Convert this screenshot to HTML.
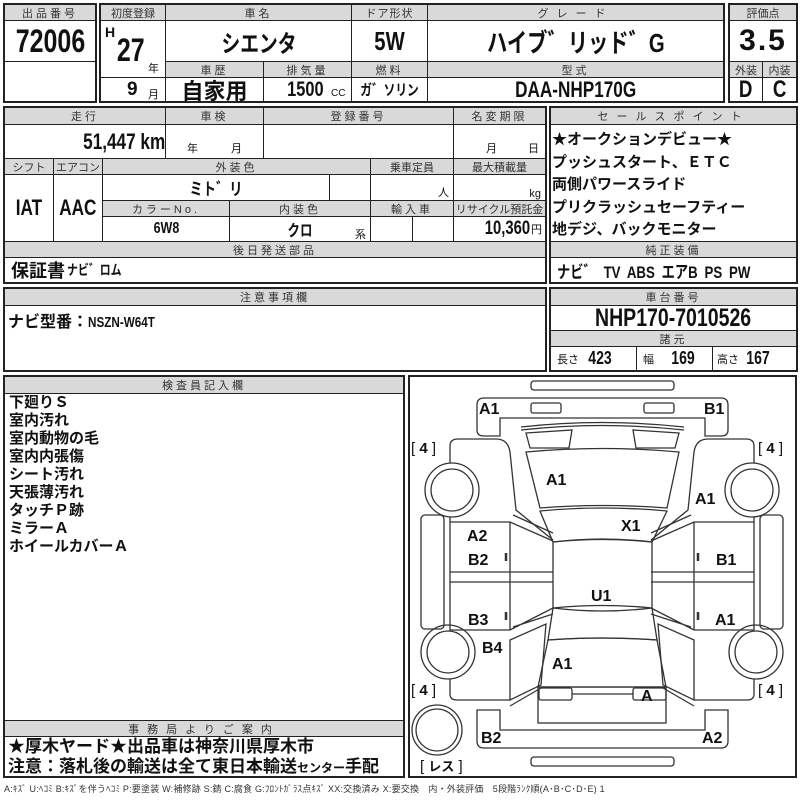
<!DOCTYPE html>
<html><head><meta charset="utf-8">
<style>
*{box-sizing:border-box;margin:0;padding:0}
body{width:800px;height:800px;background:#fff;position:relative;overflow:hidden;font-family:"Liberation Sans","Noto Sans CJK JP",sans-serif;color:#111}
.c{position:absolute;border:1px solid #222;display:flex;align-items:center;justify-content:center;white-space:nowrap;overflow:hidden}
.h{background:#d9d9d9;font-size:11px;color:#333;letter-spacing:3px}
.f{position:absolute;border:2px solid #222}
.v{font-family:"Liberation Sans","Noto Sans CJK JP",sans-serif;font-weight:bold}
.n{display:inline-block;transform:scaleX(0.78)}
.t{position:absolute;white-space:nowrap}
</style></head><body>
<!-- box1 -->
<div class="c h" style="left:4px;top:4px;width:92px;height:17px">出品番号</div>
<div class="c v" style="left:4px;top:20px;width:92px;height:42px;font-size:32px"><span class="n">72006</span></div>
<div class="c" style="left:4px;top:61px;width:92px;height:41px"></div>
<div class="f" style="left:3px;top:3px;width:94px;height:100px"></div>
<!-- box2 -->
<div class="c h" style="left:100px;top:4px;width:66px;height:17px;letter-spacing:0">初度登録</div>
<div class="c h" style="left:165px;top:4px;width:187px;height:17px">車名</div>
<div class="c h" style="left:351px;top:4px;width:77px;height:17px;letter-spacing:1px">ドア形状</div>
<div class="c h" style="left:427px;top:4px;width:297px;height:17px;letter-spacing:8px">グレード</div>
<div class="c" style="left:100px;top:20px;width:66px;height:58px"></div>
<div class="t v" style="left:105px;top:24px;font-size:14px">H</div>
<div class="t v" style="left:113px;top:32px;font-size:32px"><span class="n">27</span></div>
<div class="t" style="left:148px;top:60px;font-size:11px">年</div>
<div class="c v" style="left:165px;top:20px;width:187px;height:42px;font-size:24px"><span class="n">シエンタ</span></div>
<div class="c v" style="left:351px;top:20px;width:77px;height:42px;font-size:26px"><span class="n">5W</span></div>
<div class="c v" style="left:427px;top:20px;width:297px;height:42px;font-size:26px"><span class="n">ハイブ゛リッド゛G</span></div>
<div class="c h" style="left:165px;top:61px;width:99px;height:17px">車歴</div>
<div class="c h" style="left:263px;top:61px;width:89px;height:17px">排気量</div>
<div class="c h" style="left:351px;top:61px;width:77px;height:17px">燃料</div>
<div class="c h" style="left:427px;top:61px;width:297px;height:17px">型式</div>
<div class="c" style="left:100px;top:77px;width:66px;height:25px"></div>
<div class="t v" style="left:127px;top:79px;font-size:19px">9</div>
<div class="t" style="left:148px;top:86px;font-size:11px">月</div>
<div class="c v" style="left:165px;top:77px;width:99px;height:25px;font-size:22px">自家用</div>
<div class="c" style="left:263px;top:77px;width:89px;height:25px"></div>
<div class="t v" style="left:282px;top:78px;font-size:21px"><span class="n">1500</span></div>
<div class="t" style="left:331px;top:88px;font-size:10px">CC</div>
<div class="c v" style="left:351px;top:77px;width:77px;height:25px;font-size:15px"><span class="n">ガ゛ソリン</span></div>
<div class="c v" style="left:427px;top:77px;width:297px;height:25px;font-size:22px"><span class="n">DAA-NHP170G</span></div>
<div class="f" style="left:99px;top:3px;width:626px;height:100px"></div>
<!-- box3 -->
<div class="c h" style="left:729px;top:4px;width:68px;height:17px;letter-spacing:0">評価点</div>
<div class="c v" style="left:729px;top:20px;width:68px;height:42px;font-size:30px;letter-spacing:2px">3.5</div>
<div class="c h" style="left:729px;top:61px;width:34px;height:17px;letter-spacing:0">外装</div>
<div class="c h" style="left:762px;top:61px;width:35px;height:17px;letter-spacing:0">内装</div>
<div class="c v" style="left:729px;top:77px;width:34px;height:25px;font-size:24px"><span class="n">D</span></div>
<div class="c v" style="left:762px;top:77px;width:35px;height:25px;font-size:24px"><span class="n">C</span></div>
<div class="f" style="left:728px;top:3px;width:70px;height:100px"></div>
<!-- box4 -->
<div class="c h" style="left:4px;top:107px;width:162px;height:18px">走行</div>
<div class="c h" style="left:165px;top:107px;width:99px;height:18px">車検</div>
<div class="c h" style="left:263px;top:107px;width:191px;height:18px">登録番号</div>
<div class="c h" style="left:453px;top:107px;width:93px;height:18px">名変期限</div>
<div class="c" style="left:4px;top:124px;width:162px;height:35px;justify-content:flex-end;padding-right:0"><span class="v n" style="font-size:22px;transform-origin:right">51,447 km</span></div>
<div class="c" style="left:165px;top:124px;width:99px;height:35px;font-size:11px;align-items:flex-end;padding-bottom:2px;word-spacing:30px">年 月</div>
<div class="c" style="left:263px;top:124px;width:191px;height:35px"></div>
<div class="c" style="left:453px;top:124px;width:93px;height:35px;font-size:11px;align-items:flex-end;padding-bottom:2px;justify-content:flex-end;padding-right:6px;word-spacing:28px">月 日</div>
<div class="c h" style="left:4px;top:158px;width:50px;height:17px;letter-spacing:0">シフト</div>
<div class="c h" style="left:53px;top:158px;width:50px;height:17px;letter-spacing:0">エアコン</div>
<div class="c h" style="left:102px;top:158px;width:269px;height:17px">外装色</div>
<div class="c h" style="left:370px;top:158px;width:84px;height:17px;letter-spacing:0">乗車定員</div>
<div class="c h" style="left:453px;top:158px;width:93px;height:17px;letter-spacing:0">最大積載量</div>
<div class="c v" style="left:4px;top:174px;width:50px;height:68px;font-size:22px"><span class="n">IAT</span></div>
<div class="c v" style="left:53px;top:174px;width:50px;height:68px;font-size:22px"><span class="n">AAC</span></div>
<div class="c v" style="left:102px;top:174px;width:228px;height:27px;font-size:17px"><span class="n">ミト゛リ</span></div>
<div class="c" style="left:329px;top:174px;width:42px;height:27px"></div>
<div class="c" style="left:370px;top:174px;width:84px;height:27px;justify-content:flex-end;padding-right:4px;align-items:flex-end;font-size:11px">人</div>
<div class="c" style="left:453px;top:174px;width:93px;height:27px;justify-content:flex-end;padding-right:4px;align-items:flex-end;font-size:11px">kg</div>
<div class="c h" style="left:102px;top:200px;width:128px;height:17px">カラーNo.</div>
<div class="c h" style="left:229px;top:200px;width:142px;height:17px">内装色</div>
<div class="c h" style="left:370px;top:200px;width:84px;height:17px">輸入車</div>
<div class="c h" style="left:453px;top:200px;width:93px;height:17px;letter-spacing:0">リサイクル預託金</div>
<div class="c v" style="left:102px;top:216px;width:128px;height:26px;font-size:16px"><span class="n">6W8</span></div>
<div class="c v" style="left:229px;top:216px;width:142px;height:26px;font-size:16px"><span class="n">クロ</span></div>
<div class="t" style="left:355px;top:226px;font-size:11px">系</div>
<div class="c" style="left:370px;top:216px;width:43px;height:26px"></div>
<div class="c" style="left:412px;top:216px;width:42px;height:26px"></div>
<div class="c" style="left:453px;top:216px;width:93px;height:26px;justify-content:flex-end;padding-right:3px"><span class="v n" style="font-size:19px;transform-origin:right">10,360</span><span style="font-size:11px;margin-left:1px">円</span></div>
<div class="c h" style="left:4px;top:241px;width:542px;height:17px">後日発送部品</div>
<div class="c" style="left:4px;top:257px;width:542px;height:26px;justify-content:flex-start;padding-left:6px"><span class="v" style="font-size:18px">保証書</span><span class="v n" style="font-size:14px;margin-left:2px;transform-origin:left">ナビ゛ロム</span></div>
<div class="f" style="left:3px;top:106px;width:544px;height:178px"></div>
<!-- box5 -->
<div class="c h" style="left:550px;top:107px;width:247px;height:18px;letter-spacing:8px">セールスポイント</div>
<div class="c" style="left:550px;top:124px;width:247px;height:118px"></div>
<div class="t" style="left:552px;top:129px;font-size:15px;font-weight:bold;line-height:22.5px">★オークションデビュー★<br>プッシュスタート、ＥＴＣ<br>両側パワースライド<br>プリクラッシュセーフティー<br>地デジ、バックモニター</div>
<div class="c h" style="left:550px;top:241px;width:247px;height:17px">純正装備</div>
<div class="c v" style="left:550px;top:257px;width:247px;height:26px;justify-content:flex-start;padding-left:6px;font-size:17px"><span class="n" style="transform-origin:left;word-spacing:4px">ナビ゛ TV ABS エアB PS PW</span></div>
<div class="f" style="left:549px;top:106px;width:249px;height:178px"></div>
<!-- box6 -->
<div class="c h" style="left:4px;top:288px;width:542px;height:18px">注意事項欄</div>
<div class="c" style="left:4px;top:305px;width:542px;height:66px"></div>
<div class="t" style="left:8px;top:308px;font-size:16px;font-weight:bold">ナビ型番：<span class="n" style="font-size:15px;transform-origin:left">NSZN-W64T</span></div>
<div class="f" style="left:3px;top:287px;width:544px;height:85px"></div>
<!-- box7 -->
<div class="c h" style="left:550px;top:288px;width:247px;height:18px">車台番号</div>
<div class="c v" style="left:550px;top:305px;width:247px;height:26px;font-size:25px"><span class="n">NHP170-7010526</span></div>
<div class="c h" style="left:550px;top:330px;width:247px;height:17px">諸元</div>
<div class="c" style="left:550px;top:346px;width:87px;height:25px;justify-content:flex-start;padding-left:6px"><span style="font-size:11px">長さ</span><span class="v n" style="font-size:18px;margin-left:6px">423</span></div>
<div class="c" style="left:636px;top:346px;width:77px;height:25px;justify-content:flex-start;padding-left:6px"><span style="font-size:11px">幅</span><span class="v n" style="font-size:18px;margin-left:14px">169</span></div>
<div class="c" style="left:712px;top:346px;width:85px;height:25px;justify-content:flex-start;padding-left:4px"><span style="font-size:11px">高さ</span><span class="v n" style="font-size:18px;margin-left:4px">167</span></div>
<div class="f" style="left:549px;top:287px;width:249px;height:85px"></div>
<!-- box8 -->
<div class="c h" style="left:4px;top:376px;width:400px;height:18px">検査員記入欄</div>
<div class="t" style="left:9px;top:394px;font-size:15px;font-weight:bold;line-height:18px">下廻りＳ<br>室内汚れ<br>室内動物の毛<br>室内内張傷<br>シート汚れ<br>天張薄汚れ<br>タッチＰ跡<br>ミラーＡ<br>ホイールカバーＡ</div>
<div class="c h" style="left:4px;top:720px;width:400px;height:17px;letter-spacing:8px">事務局よりご案内</div>
<div class="t" style="left:8px;top:737px;font-size:17px;font-weight:bold;line-height:20px">★厚木ヤード★出品車は神奈川県厚木市<br>注意：落札後の輸送は全て東日本輸送<span style="font-size:12px">センター</span>手配</div>
<div class="f" style="left:3px;top:375px;width:402px;height:403px"></div>
<!-- diagram -->
<div class="f" style="left:408px;top:375px;width:389px;height:403px"></div>
<svg style="position:absolute;left:0;top:0" width="800" height="800" fill="none" stroke="#333" stroke-width="1.3">
<rect x="531" y="381" width="143" height="9" rx="3"/>
<rect x="531" y="757" width="143" height="9" rx="3"/>
<path d="M484,398 H721 Q728,398 728,405 V430 Q728,436 721,436 H705 V418 H500 V436 H484 Q477,436 477,430 V405 Q477,398 484,398Z"/>
<rect x="531" y="403" width="30" height="10" rx="2"/><rect x="644" y="403" width="30" height="10" rx="2"/>
<path d="M521,427 Q602,418 684,427 M521,430 Q602,421 684,430"/>
<path d="M526,433 L572,430 L569,448 L530,448Z"/><path d="M679,433 L633,430 L636,448 L675,448Z"/>
<path d="M526,452 Q602,445 679,452 L667,508 Q602,503 540,508Z"/>
<path d="M540,511 Q602,505 667,511 L652,542 Q602,536 553,542Z"/>
<path d="M553,542 Q602,537 652,542 V608 Q602,603 553,608Z"/>
<path d="M553,608 Q602,614 652,608 L657,640 Q602,636 548,640Z"/>
<path d="M548,640 Q602,636 657,640 L666,687 H538Z"/>
<rect x="538" y="687" width="128" height="36"/>
<rect x="539" y="688" width="33" height="12" rx="2"/><rect x="633" y="688" width="33" height="12" rx="2"/>
<path d="M572,694 H633"/>
<path d="M484,748 H721 Q728,748 728,741 V710 H705 V730 H500 V710 H477 V741 Q477,748 484,748Z"/>
<circle cx="437" cy="730" r="25"/><circle cx="437" cy="730" r="21"/>
<g id="L">
<path d="M450,463 V446 Q450,439 458,439 H496 Q508,439 510,452 L516,510 L553,540"/>
<circle cx="452" cy="490" r="27"/><circle cx="452" cy="490" r="21"/>
<path d="M450,517 V522 H510 L553,541 M450,522 V630 H510 L553,608 M510,522 V630 M450,572 H553 M450,582 H553 M513,515 L553,533 M513,627 L553,614"/>
<rect x="421" y="515" width="23" height="114" rx="4"/>
<circle cx="448" cy="652" r="27"/><circle cx="448" cy="652" r="21"/>
<path d="M510,640 L546,624 L541,685 L510,700Z"/>
<path d="M450,679 V694 Q450,700 457,700 H477 L510,700 M541,688 L510,706"/>
<path d="M506,553 v8" stroke-width="2.5"/><path d="M506,612 v8" stroke-width="2.5"/>
</g>
<use href="#L" transform="translate(1204,0) scale(-1,1)"/>
</svg>
<div style="position:absolute;font-weight:bold;font-size:16px;font-family:'Liberation Sans',sans-serif">
<span class="t" style="left:479px;top:401px">A1</span><span class="t" style="left:704px;top:401px">B1</span>
<span class="t" style="left:546px;top:472px">A1</span><span class="t" style="left:695px;top:491px">A1</span>
<span class="t" style="left:621px;top:518px">X1</span>
<span class="t" style="left:467px;top:528px">A2</span><span class="t" style="left:468px;top:552px">B2</span>
<span class="t" style="left:716px;top:552px">B1</span>
<span class="t" style="left:591px;top:588px">U1</span>
<span class="t" style="left:468px;top:612px">B3</span><span class="t" style="left:715px;top:612px">A1</span>
<span class="t" style="left:482px;top:640px">B4</span>
<span class="t" style="left:552px;top:656px">A1</span>
<span class="t" style="left:641px;top:688px">A</span>
<span class="t" style="left:481px;top:730px">B2</span><span class="t" style="left:702px;top:730px">A2</span>
</div>
<div style="position:absolute;font-size:15px;font-family:'Liberation Sans','Noto Sans CJK JP',sans-serif">
<span class="t" style="left:411px;top:440px">[ <b>4</b> ]</span><span class="t" style="left:758px;top:440px">[ <b>4</b> ]</span>
<span class="t" style="left:411px;top:682px">[ <b>4</b> ]</span><span class="t" style="left:758px;top:682px">[ <b>4</b> ]</span>
<span class="t" style="left:420px;top:756px">[ <b style="font-size:13px">レス</b> ]</span>
</div>
<div class="t" style="left:4px;top:782px;font-size:9px;color:#333;letter-spacing:0.2px">A:ｷｽﾞ U:ﾍｺﾐ B:ｷｽﾞを伴うﾍｺﾐ P:要塗装 W:補修跡 S:錆 C:腐食 G:ﾌﾛﾝﾄｶﾞﾗｽ点ｷｽﾞ XX:交換済み X:要交換　内・外装評価　5段階ﾗﾝｸ順(A･B･C･D･E) 1</div>
</body></html>
